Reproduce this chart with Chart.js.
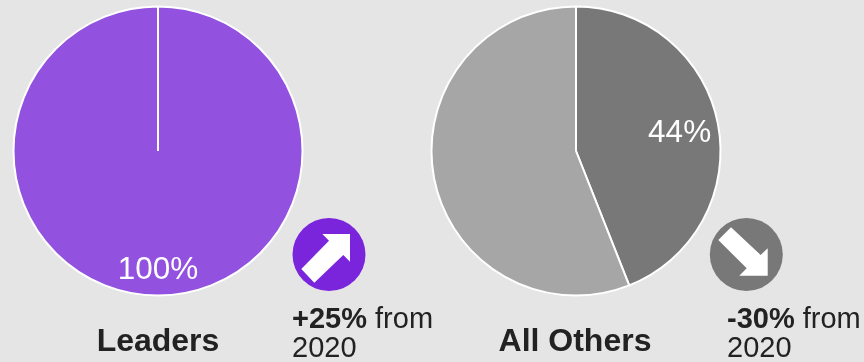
<!DOCTYPE html>
<html>
<head>
<meta charset="utf-8">
<script src="https://cdn.jsdelivr.net/npm/chart.js@4/dist/chart.umd.min.js"></script>
<style>
  html, body { margin: 0; padding: 0; background: #e5e5e5; overflow: hidden; }
  #page { position: relative; width: 864px; height: 362px; font-family: "Liberation Sans", Arial, sans-serif; color: #222; }
  .pie { position: absolute; top: 0; width: 320px; height: 302px; }
  .name { position: absolute; top: 322px; width: 240px; margin: 0; text-align: center; font-size: 32px; line-height: 36px; font-weight: bold; }
  .note { position: absolute; top: 304px; margin: 0; font-size: 29px; line-height: 29px; white-space: nowrap; }
  #badges { position: absolute; left: 0; top: 0; }
</style>
</head>
<body>
<div id="page">
  <div class="pie" style="left:-2px"><canvas id="leaders"></canvas></div>
  <div class="pie" style="left:416px"><canvas id="others"></canvas></div>

  <svg id="badges" width="864" height="362">
    <circle cx="329" cy="254.5" r="36.5" fill="#7a25dc"/>
    <polygon fill="#fff" points="322.3,234 350,234 350,261.7 343.3,255 314.3,282.7 301.3,269 329,240.7"/>
    <circle cx="746.3" cy="254.5" r="36.5" fill="#787878"/>
    <polygon fill="#fff" points="731,227.3 718.3,240 746.7,268.3 739.3,275.7 767.7,275.7 767.7,248.3 760.7,255"/>
  </svg>

  <p class="name" style="left:38px">Leaders</p>
  <p class="note" style="left:292px"><b>+25%</b> from<br>2020</p>
  <p class="name" style="left:455px">All Others</p>
  <p class="note" style="left:727px"><b>-30%</b> from<br>2020</p>
</div>

<script>
const leaderLabels = ["Leaders", "Others"];
const leaderValues = [100, 0];
const leaderColors = ["#9351e0", "#a6a6a6"];

const otherLabels = ["Top group", "Rest"];
const otherValues = [44, 56];
const otherColors = ["#787878", "#a6a6a6"];

// writes the share inside each non-empty slice
const sliceText = {
  id: "sliceText",
  afterDatasetsDraw(chart, args, opts) {
    const ctx = chart.ctx;
    const arcs = chart.getDatasetMeta(0).data;
    ctx.save();
    ctx.fillStyle = "#fff";
    ctx.font = '31.5px "Liberation Sans"';
    ctx.textAlign = "center";
    ctx.textBaseline = "middle";
    arcs.forEach((arc, i) => {
      const val = chart.data.datasets[0].data[i];
      if (!opts.show.includes(i) || val === 0) return;
      const mid = (arc.startAngle + arc.endAngle) / 2;
      const r = arc.outerRadius * opts.at;
      // digits sit a little high on the middle baseline
      ctx.fillText(val + "%", arc.x + Math.cos(mid) * r, arc.y + Math.sin(mid) * r + 2);
    });
    ctx.restore();
  }
};

function makePie(id, labels, values, colors, textOpts) {
  return new Chart(id, {
    type: "pie",
    data: {
      labels: labels,
      datasets: [{
        data: values,
        backgroundColor: colors,
        borderColor: "#fff",
        borderWidth: 2
      }]
    },
    options: {
      responsive: true,
      maintainAspectRatio: false,
      animation: false,
      layout: { padding: { top: 5.5, bottom: 5.5 } },
      plugins: {
        legend: { display: false },
        tooltip: { enabled: false },
        sliceText: textOpts
      }
    },
    plugins: [sliceText]
  });
}

makePie("leaders", leaderLabels, leaderValues, leaderColors, { show: [0], at: 0.815 });
makePie("others", otherLabels, otherValues, otherColors, { show: [0], at: 0.73 });
</script>
</body>
</html>
